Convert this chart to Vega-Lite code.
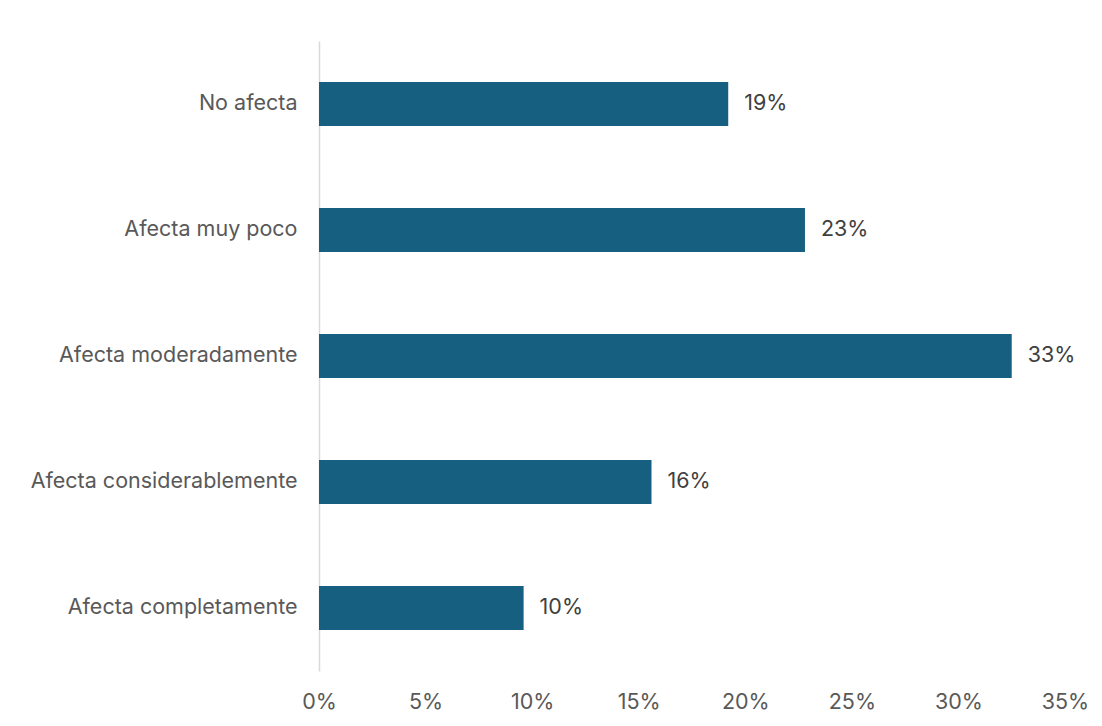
{
  "$schema": "https://vega.github.io/schema/vega-lite/v6.json",
  "width": 746,
  "height": 630,
  "autosize": {"type": "none"},
  "padding": {"left": 319, "top": 41, "right": 37, "bottom": 55},
  "background": "white",
  "config": {"view": {"stroke": null}, "font": "Inter"},
  "data": {"values": [
    {"categoria": "No afecta", "valor": 0.192},
    {"categoria": "Afecta muy poco", "valor": 0.228},
    {"categoria": "Afecta moderadamente", "valor": 0.325},
    {"categoria": "Afecta considerablemente", "valor": 0.156},
    {"categoria": "Afecta completamente", "valor": 0.096}
  ]},
  "encoding": {
    "y": {
      "field": "categoria", "type": "nominal", "sort": null,
      "scale": {"paddingInner": 0.65, "paddingOuter": 0.325},
      "axis": {"title": null, "ticks": false, "domainColor": "#d9d9d9", "domainWidth": 1.5,
               "labelFontSize": 21.5, "labelColor": "#595959", "labelPadding": 22, "labelLimit": 400, "labelFont": "Inter"}
    },
    "x": {
      "field": "valor", "type": "quantitative",
      "scale": {"domain": [0, 0.35], "nice": false},
      "axis": {"title": null, "format": ".0%", "values": [0,0.05,0.1,0.15,0.2,0.25,0.3,0.35],
               "grid": false, "ticks": false, "domain": false, "labelFlush": false, "labelOverlap": false,
               "labelFontSize": 21.5, "labelColor": "#595959", "labelPadding": 20, "labelFont": "Inter"}
    }
  },
  "layer": [
    {"mark": {"type": "bar", "color": "#175f80"}},
    {"mark": {"type": "text", "align": "left", "dx": 16, "fontSize": 21.5, "color": "#404040", "font": "Inter"},
     "encoding": {"text": {"field": "valor", "type": "quantitative", "format": ".0%"}}}
  ]
}
